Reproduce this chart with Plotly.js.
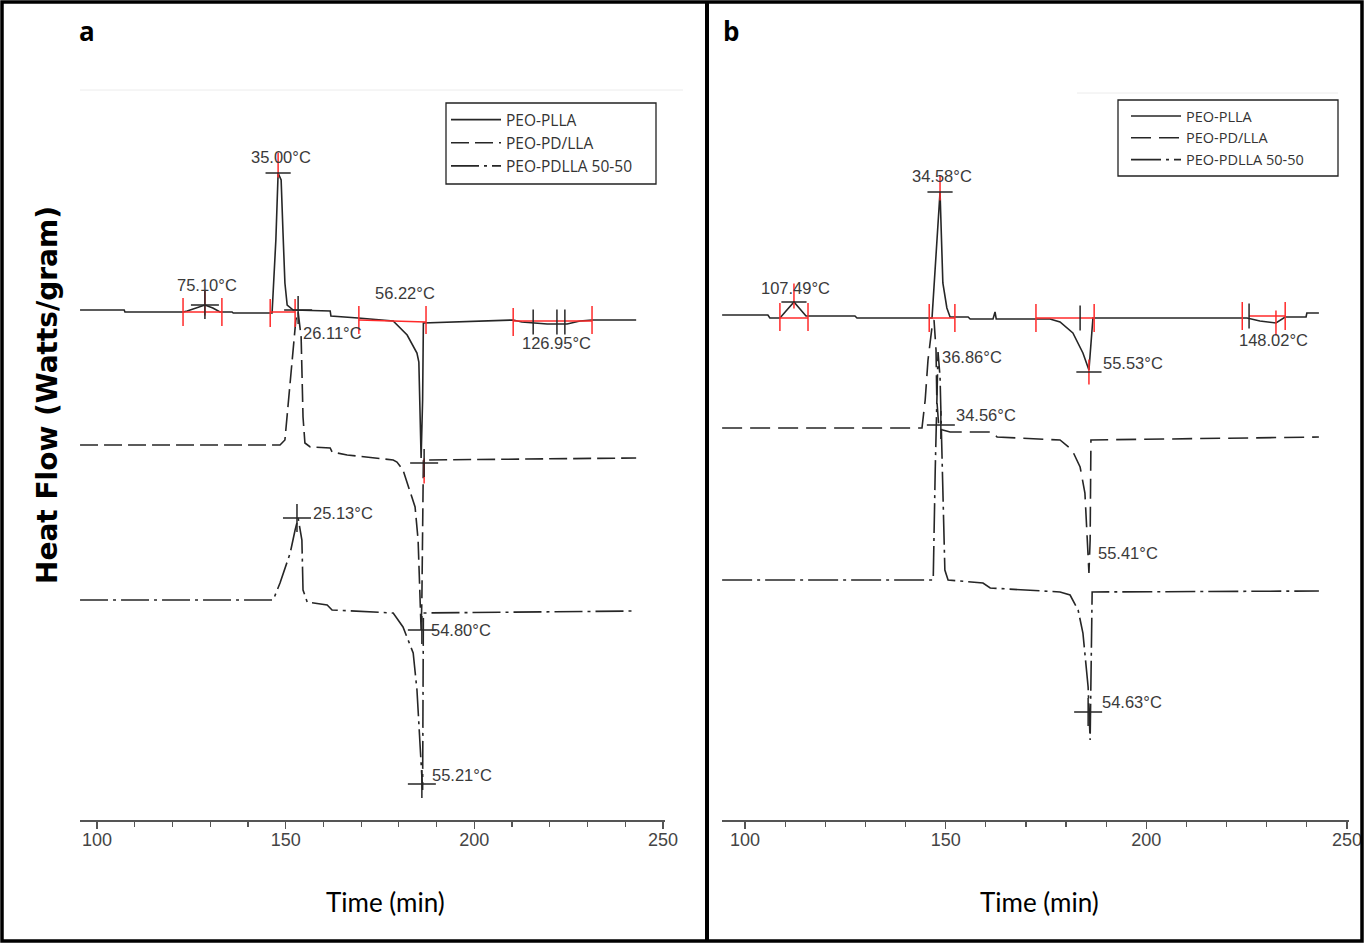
<!DOCTYPE html>
<html><head><meta charset="utf-8">
<script src="https://cdn.plot.ly/plotly-3.0.1.min.js"></script>
<style>html,body{margin:0;padding:0;background:#fff;}#chart{width:1364px;height:943px;}</style>
</head><body><div id="chart"></div>
<script>
// ---------- data (x = time in min, y = heat flow, arbitrary units) ----------
const seriesNames = ['PEO-PLLA', 'PEO-PD/LLA', 'PEO-PDLLA 50-50'];
const tickValues = [100, 150, 200, 250];

// Panel a
const a_PLLA_time = [95.5,107.2,107.4,122.8,123.9,126.5,128.6,130.7,132.6,135.8,136.1,146.4,147.4,148.0,148.8,149.3,149.8,150.4,152.0,161.8,162.0,169.2,178.5,182.2,184.8,185.3,185.6,185.9,186.3,186.5,210.3,212.6,219.3,224.6,228.0,231.2,242.9];
const a_PLLA_flow = [5.10,5.10,5.08,5.08,5.09,5.12,5.15,5.12,5.08,5.08,5.07,5.07,5.80,6.47,6.40,5.87,5.37,5.15,5.10,5.09,5.04,5.02,4.99,4.85,4.67,4.58,3.90,3.62,4.20,4.97,5.00,4.98,4.96,4.96,4.99,5.00,5.00];
const a_PDLLA_time = [95.5,148.5,149.8,151.2,152.0,152.7,153.3,154.1,154.6,155.1,156.5,161.8,162.3,166.3,178.5,179.5,181.1,182.2,184.3,185.1,185.6,185.9,186.1,186.4,186.5,242.9];
const a_PDLLA_flow = [3.75,3.75,3.80,4.37,4.70,5.00,5.08,4.83,4.03,3.77,3.73,3.72,3.68,3.65,3.60,3.58,3.50,3.37,3.13,2.80,2.20,1.90,2.20,3.50,3.60,3.62];
const a_5050_time = [95.5,146.7,148.5,151.2,152.5,153.3,154.3,154.6,155.7,161.0,162.3,178.5,181.1,183.8,184.8,185.6,186.1,186.3,186.4,186.5,242.9];
const a_5050_flow = [2.20,2.20,2.37,2.67,2.90,3.02,2.80,2.30,2.18,2.15,2.10,2.07,1.93,1.67,1.30,0.80,0.47,0.30,1.20,2.07,2.09];

// Panel b
const b_PLLA_time = [94.3,105.7,106.2,108.7,112.2,115.2,127.4,127.9,146.6,147.6,148.6,149.3,150.3,151.1,155.6,156.1,161.8,162.3,162.6,176.0,178.5,181.7,184.2,185.7,186.5,186.7,225.1,228.3,232.3,234.6,239.8,240.0,243.0];
const b_PLLA_flow = [5.05,5.05,5.02,5.02,5.18,5.04,5.04,5.02,5.02,5.60,6.28,5.37,5.12,5.03,5.03,5.01,5.01,5.08,5.01,5.01,4.98,4.87,4.67,4.50,4.90,5.02,5.02,4.99,4.97,5.03,5.03,5.07,5.07];
const b_PDLLA_time = [94.3,144.1,144.9,145.6,146.6,147.1,147.6,147.8,148.3,149.3,151.1,161.8,162.8,178.5,181.5,183.5,184.7,185.2,185.7,186.0,186.2,243.0];
const b_PDLLA_flow = [3.92,3.92,4.20,4.60,4.93,5.00,4.70,4.20,3.93,3.90,3.88,3.88,3.83,3.80,3.70,3.53,3.27,2.87,2.47,2.80,3.80,3.83];
const b_5050_time = [94.3,146.9,147.4,147.8,148.1,148.6,149.1,149.8,150.6,159.3,161.1,178.5,181.0,183.0,184.2,185.0,185.5,186.0,186.2,186.5,243.0];
const b_5050_flow = [2.40,2.40,3.50,4.40,4.68,4.43,3.50,2.50,2.40,2.37,2.32,2.28,2.25,2.10,1.87,1.53,1.33,0.80,1.70,2.28,2.29];

// Analysis marks: integration limits, baselines, peak markers
const a_limit_time = [122.8,133.1,145.9,152.5,169.4,187.2,210.3,231.2];
const a_limit_flow = [5.08,5.08,5.07,5.07,5.00,5.00,4.98,5.00];
const a_base_time = [122.8,133.1,null,145.9,152.5,null,169.4,187.2,null,210.3,231.2];
const a_base_flow = [5.08,5.08,null,5.08,5.08,null,5.00,4.98,null,4.99,4.99];
const a_peakRed_time = [148.0,128.6,186.7];
const a_peakRed_flow = [6.55,5.17,3.49];
const a_peakBar_time = [148.0];
const a_peakBar_flow = [6.47];
const a_tick_time = [215.6,221.9,224.0];
const a_tick_flow = [4.98,4.98,4.98];
const a_cross_time = [128.6,153.3,186.7,153.0,186.1,186.1];
const a_cross_flow = [5.15,5.10,3.57,3.02,1.90,0.36];
const a_label_text = ['75.10°C','35.00°C','26.11°C','56.22°C','126.95°C','25.13°C','54.80°C','55.21°C'];
const a_label_time = [129.2,148.8,162.5,181.6,221.7,165.2,196.5,196.7];
const a_label_flow = [5.35,6.63,4.87,5.27,4.77,3.07,1.90,0.45];

const b_limit_time = [108.7,115.7,145.9,152.3,172.5,187.0,223.9,234.6];
const b_limit_flow = [5.03,5.03,5.02,5.02,5.02,5.02,5.04,5.04];
const b_base_time = [108.7,115.7,null,145.9,152.3,null,172.5,187.0,null,225.6,234.6];
const b_base_flow = [5.02,5.02,null,5.02,5.02,null,5.02,5.02,null,5.04,5.04];
const b_peakRed_time = [112.2,148.6,185.7,232.3];
const b_peakRed_flow = [5.24,6.32,4.48,4.97];
const b_peakBar_time = [112.2,148.6,185.7];
const b_peakBar_flow = [5.18,6.28,4.48];
const b_tick_time = [183.5,225.6];
const b_tick_flow = [5.02,5.04];
const b_cross_time = [148.8,185.5];
const b_cross_flow = [3.95,1.08];
const b_label_text = ['107.49°C','34.58°C','36.86°C','34.56°C','55.53°C','148.02°C','55.41°C','54.63°C'];
const b_label_time = [112.5,149.1,156.6,160.1,196.7,231.8,195.4,196.4];
const b_label_flow = [5.32,6.44,4.63,4.05,4.57,4.80,2.67,1.18];

// ---------- figure ----------
const W = 1364, H = 943;
const px = v => v / W, py = v => 1 - v / H;
const LINE = '#262626', RED = '#ff2a2a';
const dashes = ['solid', '18px,6px', '28px,5px,3px,5px'];
const dashesB = ['solid', '20px,8px', '30px,5px,3px,5px'];

function curve(t, f, i, xa, ya, leg, dashSet) {
  return {type:'scatter', mode:'lines', x:t, y:f, name:seriesNames[i], xaxis:xa, yaxis:ya,
    legend:leg, showlegend:true, line:{color:LINE, width:1.6, dash:dashSet[i]}, hoverinfo:'skip'};
}
function marks(t, f, xa, ya, symbol, color, size) {
  return {type:'scatter', mode:'markers', x:t, y:f, xaxis:xa, yaxis:ya, showlegend:false, hoverinfo:'skip',
    marker:{symbol:symbol, size:size, color:color, line:{color:color, width:1.5}}};
}
function seg(t, f, xa, ya) {
  return {type:'scatter', mode:'lines', x:t, y:f, xaxis:xa, yaxis:ya, showlegend:false, hoverinfo:'skip',
    connectgaps:false, line:{color:RED, width:1.5}};
}

const traces = [
  curve(a_PLLA_time, a_PLLA_flow, 0, 'x', 'y', 'legend', dashes),
  curve(a_PDLLA_time, a_PDLLA_flow, 1, 'x', 'y', 'legend', dashes),
  curve(a_5050_time, a_5050_flow, 2, 'x', 'y', 'legend', dashes),
  curve(b_PLLA_time, b_PLLA_flow, 0, 'x2', 'y2', 'legend2', dashesB),
  curve(b_PDLLA_time, b_PDLLA_flow, 1, 'x2', 'y2', 'legend2', dashesB),
  curve(b_5050_time, b_5050_flow, 2, 'x2', 'y2', 'legend2', dashesB),
  seg(a_base_time, a_base_flow, 'x', 'y'),
  seg(b_base_time, b_base_flow, 'x2', 'y2'),
  marks(a_limit_time, a_limit_flow, 'x', 'y', 'line-ns', RED, 20),
  marks(b_limit_time, b_limit_flow, 'x2', 'y2', 'line-ns', RED, 20),
  marks(a_peakRed_time, a_peakRed_flow, 'x', 'y', 'line-ns', RED, 18),
  marks(b_peakRed_time, b_peakRed_flow, 'x2', 'y2', 'line-ns', RED, 18),
  marks(a_peakBar_time, a_peakBar_flow, 'x', 'y', 'line-ew', LINE, 18),
  marks(b_peakBar_time, b_peakBar_flow, 'x2', 'y2', 'line-ew', LINE, 18),
  marks(a_tick_time, a_tick_flow, 'x', 'y', 'line-ns', LINE, 18),
  marks(b_tick_time, b_tick_flow, 'x2', 'y2', 'line-ns', LINE, 18),
  marks(a_cross_time, a_cross_flow, 'x', 'y', 'cross-thin', LINE, 20),
  marks(b_cross_time, b_cross_flow, 'x2', 'y2', 'cross-thin', LINE, 20)
];

const LBL = '"Liberation Sans", Arial, sans-serif';
const annotations = [];
a_label_text.forEach((t, i) => annotations.push({xref:'x', yref:'y', x:a_label_time[i], y:a_label_flow[i], text:t,
  xanchor:'center', yanchor:'middle', showarrow:false, font:{family:LBL, size:16.5, color:'#3a3a3a'}}));
b_label_text.forEach((t, i) => annotations.push({xref:'x2', yref:'y2', x:b_label_time[i], y:b_label_flow[i], text:t,
  xanchor:'center', yanchor:'middle', showarrow:false, font:{family:LBL, size:16.5, color:'#3a3a3a'}}));
function paperText(x, y, text, font, angle) {
  const a = {xref:'paper', yref:'paper', x:px(x), y:py(y), text:text, xanchor:'center', yanchor:'middle', showarrow:false, font:font};
  if (angle) a.textangle = angle;
  return a;
}
const TITLE_FONT = {family:'Lato, "Open Sans", sans-serif', size:26, color:'#000'};
annotations.push(
  paperText(385, 902, 'Time (min)', TITLE_FONT),
  paperText(1039, 902, 'Time (min)', TITLE_FONT),
  paperText(48, 395, 'Heat Flow (Watts/gram)', {family:'"DejaVu Sans", sans-serif', size:28, color:'#000', weight:'bold'}, -90),
  paperText(87, 31, 'a', {family:'"Open Sans", sans-serif', size:26, color:'#000', weight:'bold'}),
  paperText(731, 31, 'b', {family:'"Open Sans", sans-serif', size:26, color:'#000', weight:'bold'})
);

const shapes = [
  {type:'rect', xref:'paper', yref:'paper', x0:px(2), x1:px(1362), y0:py(2), y1:py(941), line:{color:'#000', width:3.5}},
  {type:'line', xref:'paper', yref:'paper', x0:px(707), x1:px(707), y0:py(2), y1:py(941), line:{color:'#000', width:4}},
  {type:'line', xref:'paper', yref:'paper', x0:px(80), x1:px(683), y0:py(90), y1:py(90), line:{color:'#ececec', width:1}},
  {type:'line', xref:'paper', yref:'paper', x0:px(1077), x1:px(1338), y0:py(93), y1:py(93), line:{color:'#ececec', width:1}},
  {type:'rect', xref:'paper', yref:'paper', x0:px(446), x1:px(656), y0:py(103), y1:py(184), line:{color:'#222', width:1.3}},
  {type:'rect', xref:'paper', yref:'paper', x0:px(1118), x1:px(1338), y0:py(100), y1:py(176), line:{color:'#222', width:1.3}}
];

function xAxis(domain, range, anchor) {
  return {domain:domain, range:range, anchor:anchor, showgrid:false, zeroline:false, showline:true,
    linecolor:'#555', linewidth:2, ticks:'outside', ticklen:7, tickwidth:1.5, tickcolor:'#555',
    tickvals:tickValues, ticktext:tickValues.map(String), ticklabelstandoff:-5,
    tickfont:{family:LBL, size:18, color:'#444'},
    minor:{ticks:'outside', ticklen:5, tickwidth:1.2, tickcolor:'#555', dtick:10, tick0:0}};
}
function yAxis(anchor) {
  return {domain:[123/H, 853/H], range:[0, 7.3], anchor:anchor, visible:false, showgrid:false, zeroline:false};
}

const legendBase = {xanchor:'left', yanchor:'top', bgcolor:'rgba(0,0,0,0)', borderwidth:0,
  itemwidth:50, traceorder:'normal'};

const layout = {
  width:W, height:H, margin:{l:0, r:0, t:0, b:0}, paper_bgcolor:'#fff', plot_bgcolor:'rgba(0,0,0,0)',
  xaxis: xAxis([80/W, 665/W], [95.49, 250.54], 'y'),
  yaxis: yAxis('x'),
  xaxis2: xAxis([722/W, 1349/W], [94.27, 250.5], 'y2'),
  yaxis2: yAxis('x2'),
  legend: Object.assign({x:px(446), y:py(103), font:{family:'"Open Sans", sans-serif', size:15.5, color:'#333'}}, legendBase),
  legend2: Object.assign({x:px(1126), y:py(100), font:{family:'"Open Sans", sans-serif', size:14.5, color:'#333'}}, legendBase),
  annotations: annotations, shapes: shapes, showlegend:true
};

Plotly.newPlot('chart', traces, layout, {displayModeBar:false, staticPlot:true});
</script></body></html>
